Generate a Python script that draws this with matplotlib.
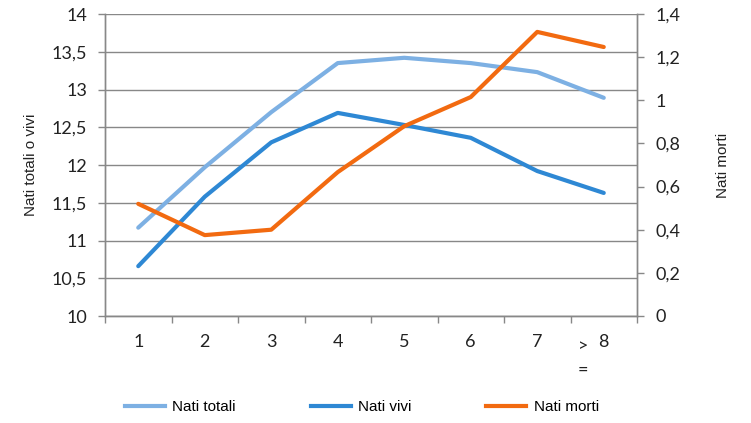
import matplotlib
matplotlib.use("Agg")
import matplotlib.pyplot as plt
from matplotlib.lines import Line2D
from matplotlib.ticker import FixedLocator, FuncFormatter

categories = ["1", "2", "3", "4", "5", "6", "7", "8"]
nati_totali = [11.17, 11.97, 12.70, 13.35, 13.42, 13.35, 13.23, 12.89]
nati_vivi = [10.66, 11.58, 12.30, 12.69, 12.53, 12.36, 11.92, 11.63]
nati_morti = [0.52, 0.375, 0.40, 0.667, 0.88, 1.015, 1.317, 1.247]
left_ticks = [10, 10.5, 11, 11.5, 12, 12.5, 13, 13.5, 14]
right_ticks = [0, 0.2, 0.4, 0.6, 0.8, 1.0, 1.2, 1.4]

c_tot = "#7DB0E3"
c_vivi = "#2E88D4"
c_morti = "#F26A10"
grid_c = "#888888"
tick_font = "Lato"
lab_font = "Liberation Sans"
tsize = 13

fig = plt.figure(figsize=(7.51, 4.23), dpi=100)
ax = fig.add_axes([105/751, 1-316/423, (637-105)/751, (316-14)/423])
ax2 = ax.twinx()

x = list(range(1, len(categories) + 1))
ax.plot(x, nati_totali, color=c_tot, lw=3, solid_capstyle="round", zorder=3)
ax.plot(x, nati_vivi, color=c_vivi, lw=3, solid_capstyle="round", zorder=3)
ax2.plot(x, nati_morti, color=c_morti, lw=3, solid_capstyle="round", zorder=3)

ax.set_xlim(0.5, len(categories) + 0.5)
ax.set_ylim(10, 14)
ax2.set_ylim(0, 1.4)

fmt = FuncFormatter(lambda v, p: ("%g" % round(v, 2)).replace(".", ","))
ax.yaxis.set_major_locator(FixedLocator(left_ticks))
ax.yaxis.set_major_formatter(fmt)
ax2.yaxis.set_major_locator(FixedLocator(right_ticks))
ax2.yaxis.set_major_formatter(fmt)

ax.set_xticks(x)
ax.set_xticklabels(list(categories))
ax.set_xticks([i + 0.5 for i in range(0, len(categories) + 1)], minor=True)
ax.tick_params(axis="x", which="major", length=0, pad=13, labelsize=tsize, labelcolor="#222222")
ax.tick_params(axis="x", which="minor", length=5, direction="out", color=grid_c, width=1)
for lab in ax.get_xticklabels():
    lab.set_fontfamily(tick_font)

ax.tick_params(axis="y", length=5, direction="out", color=grid_c, width=1, pad=8,
               labelsize=tsize, labelcolor="#222222")
ax2.tick_params(axis="y", length=5, direction="out", color=grid_c, width=1, pad=8,
                labelsize=tsize, labelcolor="#222222")
for lab in ax.get_yticklabels() + ax2.get_yticklabels():
    lab.set_fontfamily(tick_font)

ax.grid(axis="y", color=grid_c, lw=1)
ax.set_axisbelow(True)
for a in (ax, ax2):
    a.spines["top"].set_visible(False)
    for s in ("left", "right", "bottom"):
        a.spines[s].set_color(grid_c)
        a.spines[s].set_linewidth(1)

# extra characters around the last category label
ax.annotate(">", xy=(8, 0), xycoords=("data", "axes fraction"), xytext=(-21, -30),
            textcoords="offset pixels", ha="center", va="center", fontsize=tsize,
            fontfamily=tick_font, color="#222222")
ax.annotate("=", xy=(8, 0), xycoords=("data", "axes fraction"), xytext=(-21, -54),
            textcoords="offset pixels", ha="center", va="center", fontsize=tsize,
            fontfamily=tick_font, color="#222222")

ax.set_ylabel("Nati totali o vivi", fontsize=11, fontfamily=lab_font, color="#222222", labelpad=10)
ax2.set_ylabel("Nati morti", fontsize=11, fontfamily=lab_font, color="#222222", labelpad=26)

handles = [Line2D([], [], color=c_tot, lw=3),
           Line2D([], [], color=c_vivi, lw=3),
           Line2D([], [], color=c_morti, lw=3)]
fig.legend(handles, ["Nati totali", "Nati vivi", "Nati morti"], ncol=3,
           loc="center", bbox_to_anchor=(362/751, 1-407/423), frameon=False,
           prop={"family": lab_font, "size": 11}, handlelength=2.6,
           handletextpad=0.5, columnspacing=4.9)

fig.savefig("out.png", dpi=100)
